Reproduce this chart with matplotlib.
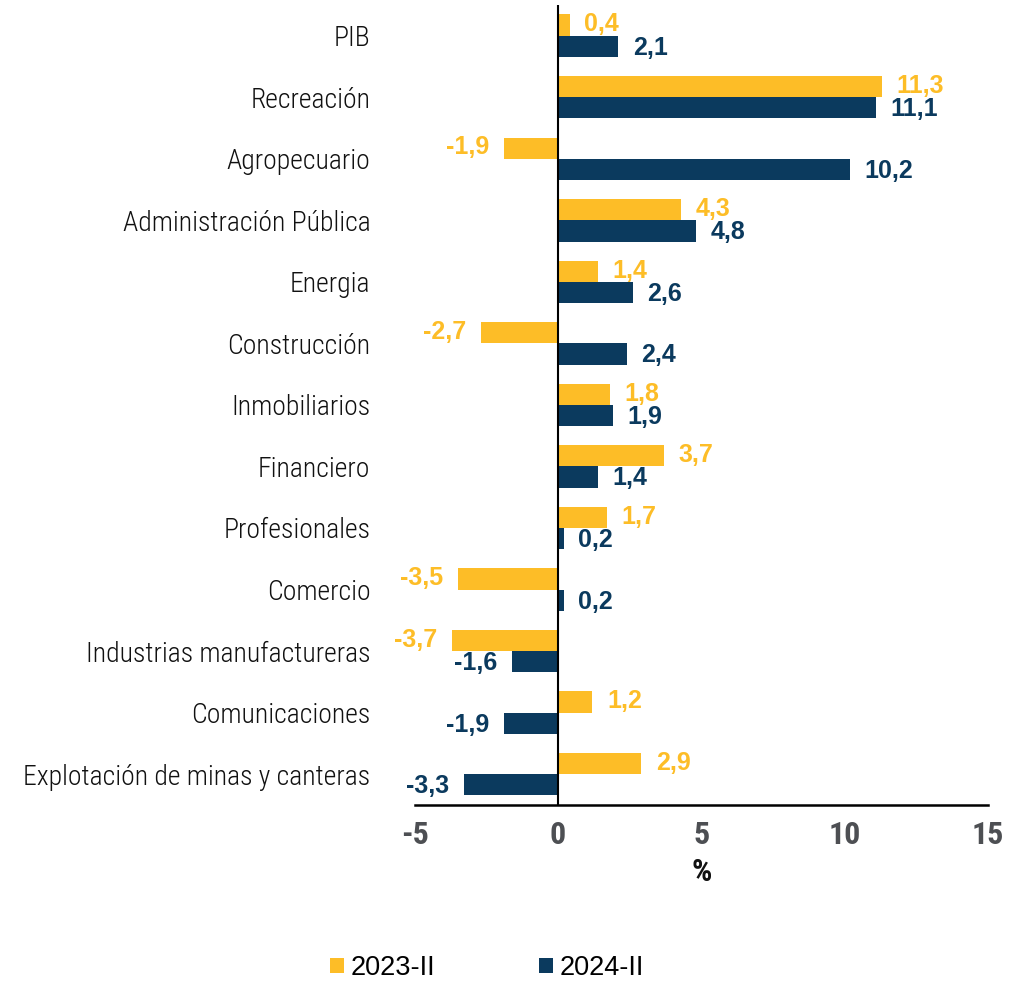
import matplotlib
matplotlib.use("Agg")
import matplotlib.pyplot as plt
from matplotlib.patches import Patch
import numpy as np

categories = ["PIB", "Recreación", "Agropecuario", "Administración Pública", "Energia",
              "Construcción", "Inmobiliarios", "Financiero", "Profesionales", "Comercio",
              "Industrias manufactureras", "Comunicaciones", "Explotación de minas y canteras"]
s2023 = [0.4, 11.3, -1.9, 4.3, 1.4, -2.7, 1.8, 3.7, 1.7, -3.5, -3.7, 1.2, 2.9]
s2024 = [2.1, 11.1, 10.2, 4.8, 2.6, 2.4, 1.9, 1.4, 0.2, 0.2, -1.6, -1.9, -3.3]
series_names = ["2023-II", "2024-II"]
xticks = [-5, 0, 5, 10, 15]

YELLOW = "#FDBD27"
NAVY = "#0B3A5E"

cond = ["Roboto Condensed", "Archivo Narrow", "DejaVu Sans"]
reg = ["Liberation Sans", "DejaVu Sans"]

fig = plt.figure(figsize=(10.12, 9.84), dpi=100)
ax = fig.add_axes([0.410, 0.182, 0.566, 0.813])

y = np.arange(len(categories))
h = 0.345
b1 = ax.barh(y - h / 2, s2023, height=h, color=YELLOW, zorder=2)
b2 = ax.barh(y + h / 2, s2024, height=h, color=NAVY, zorder=2)

def fmt(v):
    return f"{v:.1f}".replace(".", ",")

for bars, vals, col, dy in ((b1, s2023, YELLOW, 0.5), (b2, s2024, NAVY, -1.0)):
    for rect, v in zip(bars, vals):
        yc = rect.get_y() + rect.get_height() / 2
        off = 10.5 if v >= 0 else -10.5
        ax.annotate(fmt(v), xy=(v, yc), xytext=(off, dy), textcoords="offset points",
                    ha="left" if v >= 0 else "right", va="center",
                    fontsize=18, color=col, family=reg, fontweight="bold", zorder=3)

ax.set_xlim(-5, 15)
ax.set_ylim(len(categories) - 0.5, -0.5)
ax.set_xticks(xticks)
ax.set_xticklabels([str(t) for t in xticks], fontsize=23, fontweight="bold",
                   color="#4D4F53", family=cond)
ax.set_yticks(y)
ax.set_yticklabels(categories, fontsize=20, family=cond, fontweight="light", color="#111111")
ax.tick_params(axis="y", length=0, pad=32)
ax.tick_params(axis="x", length=0, pad=11)
ax.set_xlabel("%", fontsize=23, fontweight="bold", family=cond, labelpad=5, color="#111111")

for s in ("top", "right", "left"):
    ax.spines[s].set_visible(False)
ax.spines["bottom"].set_linewidth(1.8)
ax.spines["bottom"].set_color("black")
ax.axvline(0, color="black", lw=1.5, zorder=4)

handles = [Patch(facecolor=YELLOW, edgecolor="none"), Patch(facecolor=NAVY, edgecolor="none")]
leg = fig.legend(handles, series_names, loc="center", bbox_to_anchor=(487 / 1012, 1 - 968 / 984),
                 ncol=2, frameon=False, prop={"family": reg, "size": 19.5},
                 handlelength=0.52, handleheight=0.52, handletextpad=0.25, columnspacing=3.8)

fig.savefig("out.png", dpi=100)
